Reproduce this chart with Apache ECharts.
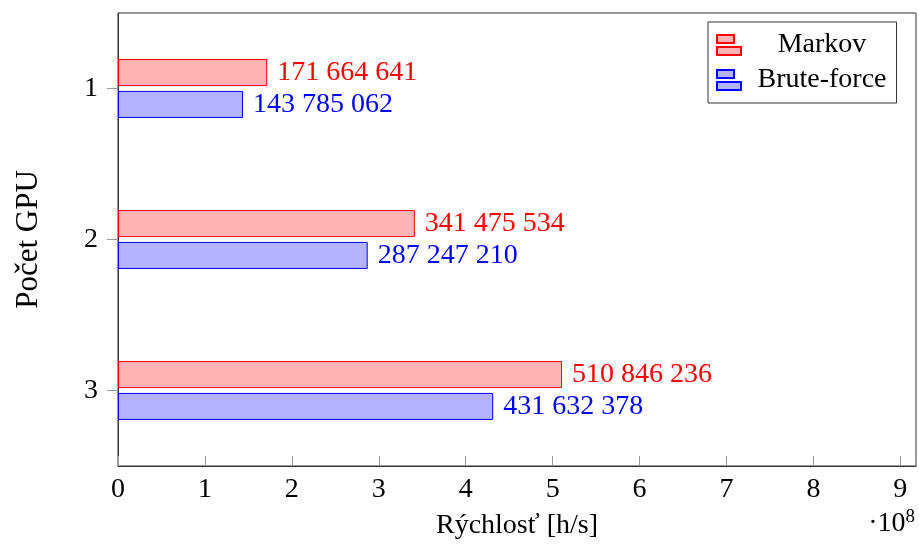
<!DOCTYPE html>
<html>
<head>
<meta charset="utf-8">
<script src="https://cdn.jsdelivr.net/npm/echarts@6/dist/echarts.min.js"></script>
<style>
html,body{margin:0;padding:0;background:#fff;}
#chart{width:919px;height:547px;}
</style>
</head>
<body>
<div id="chart"></div>
<script>
const categories = ['1', '2', '3'];
const markovValues = [171664641, 341475534, 510846236];
const bruteValues = [143785062, 287247210, 431632378];
const seriesNames = ['Markov', 'Brute-force'];
const xTickLabels = ['0','1','2','3','4','5','6','7','8','9'];
const xScale = 1e8;

const FONT = 'Liberation Serif';
function fmt(v) {
  return String(v).replace(/\B(?=(\d{3})+(?!\d))/g, ' ');
}

const chart = echarts.init(document.getElementById('chart'));
const option = {
  backgroundColor: '#fff',
  animation: false,
  textStyle: { fontFamily: FONT },
  grid: {
    left: 118, right: 2, top: 13, bottom: 81,
    show: true, borderColor: '#333', borderWidth: 1, containLabel: false
  },
  legend: {
    orient: 'vertical',
    left: 708, top: 22,
    padding: [9, 10, 9, 8],
    itemGap: 7,
    borderColor: '#333', borderWidth: 1,
    backgroundColor: '#fff',
    itemWidth: 24, itemHeight: 20,
    icon: 'path://M0,0H17V8H0Z M0,12H24V20H0Z',
    data: seriesNames,
    formatter: name => '{c|' + name + '}',
    textStyle: {
      fontFamily: FONT, fontSize: 28, color: '#000',
      rich: { c: { width: 152, align: 'center', fontFamily: FONT, fontSize: 28, color: '#000' } }
    }
  },
  xAxis: {
    type: 'value',
    min: 0, max: 9.18e8, interval: xScale,
    name: 'Rýchlosť [h/s]',
    nameLocation: 'middle',
    nameGap: 46,
    nameTextStyle: { fontFamily: FONT, fontSize: 28, color: '#000' },
    axisLine: { show: true, lineStyle: { color: '#333', width: 1 } },
    axisTick: { show: true, inside: true, length: 10, lineStyle: { color: '#999' } },
    axisLabel: {
      margin: 10, fontFamily: FONT, fontSize: 28, color: '#000',
      formatter: v => {
        const i = Math.round(v / xScale);
        return Math.abs(v / xScale - i) < 1e-6 && xTickLabels[i] !== undefined ? xTickLabels[i] : '';
      }
    },
    splitLine: { show: false }
  },
  yAxis: {
    type: 'category',
    inverse: true,
    data: categories,
    name: 'Počet GPU',
    nameLocation: 'middle',
    nameGap: 74,
    nameTextStyle: { fontFamily: FONT, fontSize: 31, color: '#000' },
    axisLine: { show: true, lineStyle: { color: '#333', width: 1 } },
    axisTick: { show: true, alignWithLabel: true, length: 11, lineStyle: { color: '#999' } },
    axisLabel: { margin: 20, fontFamily: FONT, fontSize: 28, color: '#000' },
    splitLine: { show: false }
  },
  series: [
    {
      name: seriesNames[0],
      type: 'bar',
      data: markovValues,
      barWidth: 27,
      barGap: '18%',
      itemStyle: { color: '#ffb3b3', borderColor: '#ff0000', borderWidth: 1 },
      label: {
        show: true, position: 'right', distance: 10,
        fontFamily: FONT, fontSize: 28, color: '#ff0000',
        formatter: p => fmt(p.value)
      }
    },
    {
      name: seriesNames[1],
      type: 'bar',
      data: bruteValues,
      barWidth: 27,
      barGap: '18%',
      itemStyle: { color: '#b3b3ff', borderColor: '#0000ff', borderWidth: 1 },
      label: {
        show: true, position: 'right', distance: 10,
        fontFamily: FONT, fontSize: 28, color: '#0000ff',
        formatter: p => fmt(p.value)
      }
    }
  ],
  graphic: [
    {
      type: 'text',
      right: 4, top: 508,
      style: {
        text: '·10{s|8}',
        fontFamily: FONT, fontSize: 28, fill: '#000',
        rich: { s: { fontFamily: FONT, fontSize: 19, fill: '#000', verticalAlign: 'top', padding: [0,0,12,0] } }
      }
    }
  ]
};
chart.setOption(option);
</script>
</body>
</html>
